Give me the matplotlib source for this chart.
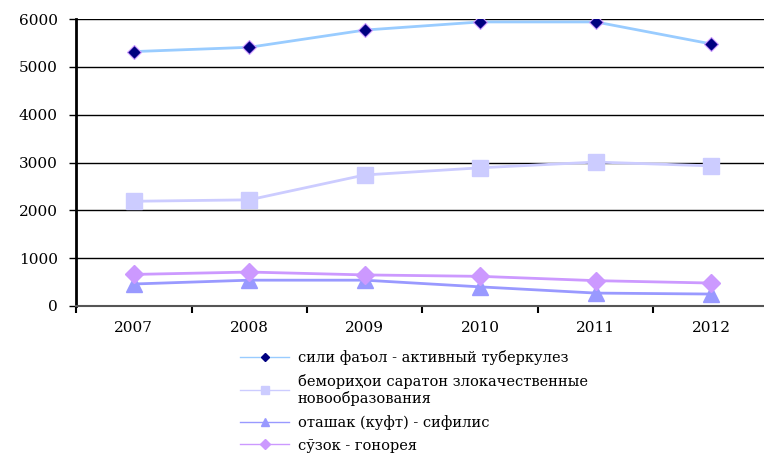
import matplotlib.pyplot as plt
from matplotlib.lines import Line2D
import numpy as np

# data
years = ["2007", "2008", "2009", "2010", "2011", "2012"]
tuberculosis = [5320, 5410, 5770, 5940, 5940, 5480]
cancer = [2190, 2220, 2740, 2890, 3010, 2930]
syphilis = [460, 540, 540, 400, 270, 250]
gonorrhea = [660, 710, 650, 620, 530, 480]

labels = [
    "сили фаъол - активный туберкулез",
    "бемориҳои саратон злокачественные\nновообразования",
    "оташак (куфт) - сифилис",
    "сӯзок - гонорея",
]

plt.rcParams['font.family'] = ['DejaVu Serif']

fig = plt.figure(figsize=(7.64, 4.54), dpi=100)
ax = fig.add_axes([0.0995, 0.326, 0.907, 0.632])

x = np.arange(len(years))

ax.plot(x, tuberculosis, color='#99CCFF', lw=2, marker='D', markersize=7,
        markerfacecolor='#000080', markeredgecolor='#CC99FF', markeredgewidth=0.8,
        zorder=5)
ax.plot(x, cancer, color='#CCCCFF', lw=2, marker='s', markersize=11,
        markerfacecolor='#CCCCFF', markeredgecolor='#CCCCFF', zorder=4)
ax.plot(x, syphilis, color='#9999FF', lw=2, marker='^', markersize=11,
        markerfacecolor='#9999FF', markeredgecolor='#9999FF', zorder=4)
ax.plot(x, gonorrhea, color='#CC99FF', lw=2, marker='D', markersize=9,
        markerfacecolor='#CC99FF', markeredgecolor='#CC99FF', zorder=4)

ax.set_xlim(-0.5, len(years) - 0.5)
ax.set_ylim(0, 6000)
ax.set_yticks(range(0, 6001, 1000))
ax.yaxis.grid(True, color='black', lw=1)
ax.set_axisbelow(True)

ax.set_xticks(x)
ax.set_xticklabels(years)
ax.set_xticks(np.arange(-0.5, len(years)), minor=True)
ax.tick_params(axis='x', which='major', length=0, pad=11, labelsize=11)
ax.tick_params(axis='x', which='minor', length=5, width=1.5, direction='out')
ax.tick_params(axis='y', length=5, width=1, direction='out', labelsize=11, pad=8)

for side in ['top', 'right']:
    ax.spines[side].set_visible(False)
ax.spines['left'].set_linewidth(2)
ax.spines['bottom'].set_color('#555555')
ax.spines['bottom'].set_linewidth(1.5)

# legend uses small markers and thin lines, like the original
handles = [
    Line2D([], [], color='#99CCFF', lw=1, marker='D', markersize=4,
           markerfacecolor='#000080', markeredgecolor='#000080'),
    Line2D([], [], color='#CCCCFF', lw=1, marker='s', markersize=6,
           markerfacecolor='#CCCCFF', markeredgecolor='#CCCCFF'),
    Line2D([], [], color='#9999FF', lw=1, marker='^', markersize=6,
           markerfacecolor='#9999FF', markeredgecolor='#9999FF'),
    Line2D([], [], color='#CC99FF', lw=1, marker='D', markersize=5,
           markerfacecolor='#CC99FF', markeredgecolor='#CC99FF'),
]
fig.legend(handles, labels, loc='upper left', bbox_to_anchor=(0.314, 0.229),
           frameon=False, fontsize=10.5, handlelength=3.4, labelspacing=0.6,
           handletextpad=0.55, borderpad=0, borderaxespad=0)

fig.savefig('out.png', dpi=100)
